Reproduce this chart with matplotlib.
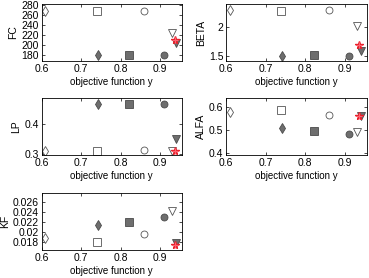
import matplotlib
matplotlib.use('Agg')
import matplotlib.pyplot as plt

# objective function value of each run
y_obj = [0.61, 0.74, 0.86, 0.93, 0.742, 0.822, 0.91, 0.94, 0.937]
markers = ['d', 's', 'o', 'v', 'd', 's', 'o', 'v', '*']
filled = [False, False, False, False, True, True, True, True, None]

# parameter values per run (same order as y_obj)
fc = [268, 268, 268, 224, 180, 180, 180, 205, 210]
beta = [2.31, 2.29, 2.31, 2.02, 1.50, 1.52, 1.49, 1.58, 1.69]
lp = [0.312, 0.312, 0.313, 0.310, 0.468, 0.468, 0.468, 0.351, 0.310]
alfa = [0.576, 0.584, 0.565, 0.493, 0.507, 0.497, 0.485, 0.560, 0.560]
kf = [0.0188, 0.0180, 0.0195, 0.0241, 0.0213, 0.0220, 0.0229, 0.0177, 0.0173]

panels = [
    ('FC', fc, (169, 282), [180, 200, 220, 240, 260, 280], ['180', '200', '220', '240', '260', '280']),
    ('BETA', beta, (1.41, 2.41), [1.5, 2.0], ['1.5', '2']),
    ('LP', lp, (0.298, 0.487), [0.3, 0.4], ['0.3', '0.4']),
    ('ALFA', alfa, (0.393, 0.637), [0.4, 0.5, 0.6], ['0.4', '0.5', '0.6']),
    ('KF', kf, (0.0163, 0.0278), [0.018, 0.020, 0.022, 0.024, 0.026],
     ['0.018', '0.02', '0.022', '0.024', '0.026']),
]

plt.rcParams['font.family'] = ['Liberation Sans', 'DejaVu Sans']
plt.rcParams['font.size'] = 7.5

fig = plt.figure(figsize=(3.69, 2.78), dpi=100)

# axes positions [left, bottom, width, height]
boxes = [
    [0.1125, 0.7806, 0.380, 0.205],
    [0.6125, 0.7806, 0.381, 0.205],
    [0.1125, 0.4424, 0.380, 0.205],
    [0.6125, 0.4424, 0.381, 0.205],
    [0.1125, 0.1007, 0.380, 0.205],
]

sizes = {'d': 5.2, 's': 5.5, 'o': 5, 'v': 5.5}

for (name, vals, ylim, yt, ytl), box in zip(panels, boxes):
    ax = fig.add_axes(box)
    for x, v, m, f in zip(y_obj, vals, markers, filled):
        if f is None:
            ax.plot(x, v, marker='*', ms=5.5, mfc='#e8202a', mec='#e8202a',
                    ls='none')
            ax.plot(x, v, marker='+', ms=5, mec='#ff6070', mew=0.8, ls='none')
        elif f:
            ax.plot(x, v, marker=m, ms=sizes[m], mfc='#6e6e6e', mec='#4a4a4a',
                    mew=0.6, ls='none')
        else:
            ax.plot(x, v, marker=m, ms=sizes[m], mfc='white', mec='#555555',
                    mew=0.6, ls='none')
    ax.set_xlim(0.6, 0.955)
    ax.set_ylim(*ylim)
    ax.set_xticks([0.6, 0.7, 0.8, 0.9])
    ax.set_xticklabels(['0.6', '0.7', '0.8', '0.9'])
    ax.set_yticks(yt)
    ax.set_yticklabels(ytl)
    ax.tick_params(direction='in', length=2, width=0.5, top=True, right=True,
                   pad=2, labelsize=7.5)
    for s in ax.spines.values():
        s.set_linewidth(0.6)
    ax.set_ylabel(name, fontsize=7.5, labelpad=2)
    ax.set_xlabel('objective function y', fontsize=7, labelpad=2)

fig.savefig('out.png', dpi=100)
